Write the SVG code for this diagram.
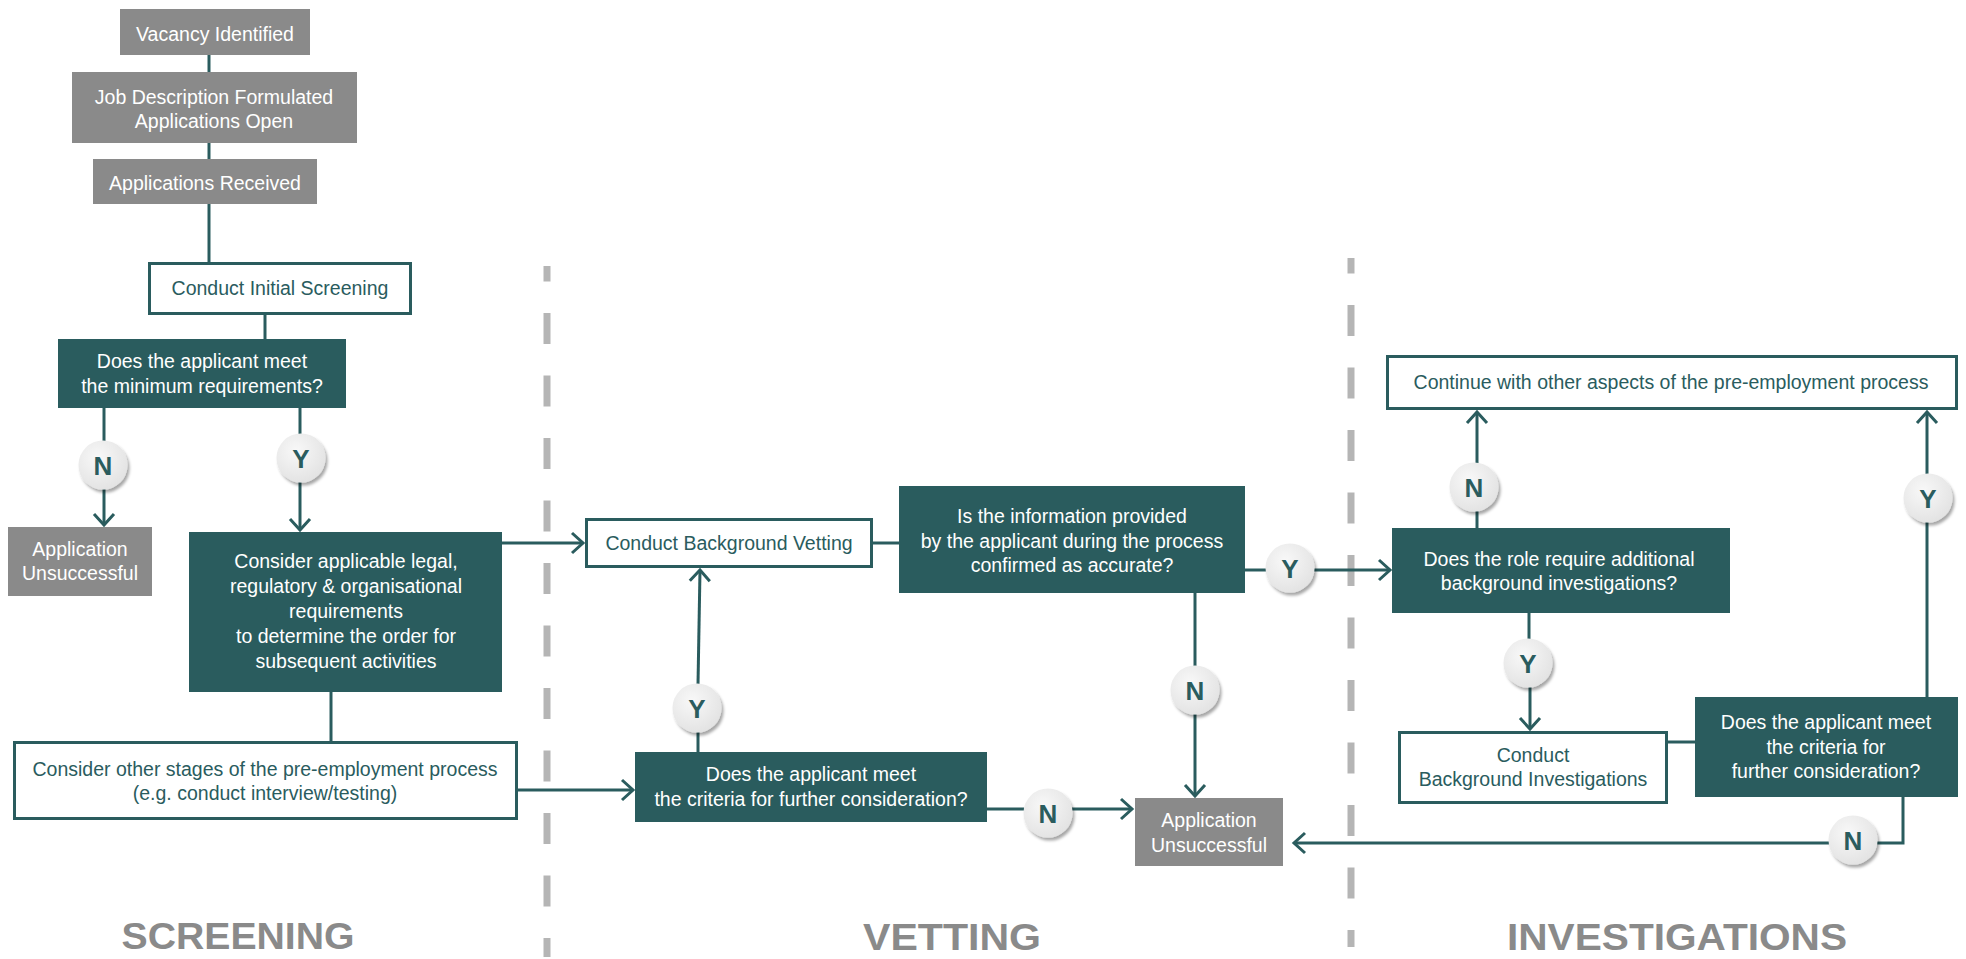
<svg xmlns="http://www.w3.org/2000/svg" width="1966" height="959" viewBox="0 0 1966 959">
<defs>
<style>
.dk{fill:#2a5c5e}
.gy{fill:#8a8a8a}
.wb{fill:#ffffff;stroke:#2a5c5e;stroke-width:3}
.tw{font-family:"Liberation Sans",Arial,sans-serif;font-size:19.5px;fill:#ffffff;text-anchor:middle}
.tt{font-family:"Liberation Sans",Arial,sans-serif;font-size:19.5px;fill:#2a5c5e;text-anchor:middle}
.ln{fill:none;stroke:#2a5c5e;stroke-width:3}
.ar{marker-end:url(#arr)}
.bc{fill:url(#cg);filter:url(#sh)}
.bt{font-family:"Liberation Sans",Arial,sans-serif;font-weight:bold;font-size:26px;fill:#2a5c5e;text-anchor:middle}
.sep{stroke:#b5b5b5;stroke-width:7;stroke-dasharray:31 31.5;stroke-dashoffset:15.5;fill:none}
.hd{font-family:"Liberation Sans",Arial,sans-serif;font-weight:bold;font-size:37px;fill:#8a8a8a;text-anchor:middle}
</style>
<marker id="arr" markerUnits="userSpaceOnUse" markerWidth="30" markerHeight="30" viewBox="-15 -15 30 30" refX="0" refY="0" orient="auto">
<path d="M-11,-10 L0,0 L-11,10" fill="none" stroke="#2a5c5e" stroke-width="3"/>
</marker>
<radialGradient id="cg" cx="0.4" cy="0.35" r="0.7">
<stop offset="0" stop-color="#f8f8f8"/>
<stop offset="1" stop-color="#e2e2e2"/>
</radialGradient>
<filter id="sh" x="-30%" y="-30%" width="170%" height="170%">
<feDropShadow dx="2" dy="3" stdDeviation="1.8" flood-color="#000" flood-opacity="0.35"/>
</filter>
</defs>
<rect width="1966" height="959" fill="#ffffff"/>

<g id="separators">
<line class="sep" x1="547" y1="266" x2="547" y2="957"/>
<line class="sep" x1="1351" y1="258" x2="1351" y2="947"/>
</g>

<g id="headings">
<text class="hd" x="238" y="949" textLength="233" lengthAdjust="spacingAndGlyphs">SCREENING</text>
<text class="hd" x="952" y="950" textLength="178" lengthAdjust="spacingAndGlyphs">VETTING</text>
<text class="hd" x="1677" y="950" textLength="340" lengthAdjust="spacingAndGlyphs">INVESTIGATIONS</text>
</g>

<g id="connectors">
<path class="ln" d="M209,55 V72"/>
<path class="ln" d="M209,143 V159"/>
<path class="ln" d="M209,204 V262"/>
<path class="ln" d="M265,315 V339"/>
<path class="ln" d="M104,408 V441"/>
<path class="ln ar" d="M104,489 V525"/>
<path class="ln" d="M300,408 V434"/>
<path class="ln ar" d="M300,482 V530"/>
<path class="ln ar" d="M502,543 H583"/>
<path class="ln" d="M331,692 V741"/>
<path class="ln ar" d="M517,790 H633"/>
<path class="ln" d="M698,752 V732"/>
<path class="ln ar" d="M698,684 L700,570"/>
<path class="ln" d="M873,543 H899"/>
<path class="ln" d="M1245,570 H1266"/>
<path class="ln ar" d="M1314,570 H1390"/>
<path class="ln" d="M1195,593 V666"/>
<path class="ln ar" d="M1195,714 V796"/>
<path class="ln" d="M987,809 H1024"/>
<path class="ln ar" d="M1072,809 H1132"/>
<path class="ln" d="M1477,528 V511"/>
<path class="ln ar" d="M1477,463 V412"/>
<path class="ln" d="M1529,613 V639"/>
<path class="ln ar" d="M1530,687 V729"/>
<path class="ln" d="M1668,742 H1695"/>
<path class="ln" d="M1927,697 V522"/>
<path class="ln ar" d="M1927,474 V412"/>
<path class="ln" d="M1903,797 V843 H1877"/>
<path class="ln ar" d="M1829,843 H1294"/>
</g>

<g id="badges">
<g id="b1"><circle class="bc" cx="103" cy="465" r="24.5"/><text class="bt" x="103" y="474.5">N</text></g>
<g id="b2"><circle class="bc" cx="301" cy="458" r="24.5"/><text class="bt" x="301" y="467.5">Y</text></g>
<g id="b3"><circle class="bc" cx="697" cy="708" r="24.5"/><text class="bt" x="697" y="717.5">Y</text></g>
<g id="b4"><circle class="bc" cx="1290" cy="568" r="24.5"/><text class="bt" x="1290" y="577.5">Y</text></g>
<g id="b5"><circle class="bc" cx="1195" cy="690" r="24.5"/><text class="bt" x="1195" y="699.5">N</text></g>
<g id="b6"><circle class="bc" cx="1048" cy="813" r="24.5"/><text class="bt" x="1048" y="822.5">N</text></g>
<g id="b7"><circle class="bc" cx="1474" cy="487" r="24.5"/><text class="bt" x="1474" y="496.5">N</text></g>
<g id="b8"><circle class="bc" cx="1528" cy="663" r="24.5"/><text class="bt" x="1528" y="672.5">Y</text></g>
<g id="b9"><circle class="bc" cx="1928" cy="498" r="24.5"/><text class="bt" x="1928" y="507.5">Y</text></g>
<g id="b10"><circle class="bc" cx="1853" cy="840" r="24.5"/><text class="bt" x="1853" y="849.5">N</text></g>
</g>

<g id="vacancy">
<rect class="gy" x="120" y="9" width="190" height="46"/>
<text class="tw" x="215" y="41">Vacancy Identified</text>
</g>
<g id="jobdesc">
<rect class="gy" x="72" y="72" width="285" height="71"/>
<text class="tw" x="214" y="104">Job Description Formulated</text>
<text class="tw" x="214" y="128">Applications Open</text>
</g>
<g id="received">
<rect class="gy" x="93" y="159" width="224" height="45"/>
<text class="tw" x="205" y="190">Applications Received</text>
</g>
<g id="initial">
<rect class="wb" x="149.5" y="263.5" width="261" height="50"/>
<text class="tt" x="280" y="295">Conduct Initial Screening</text>
</g>
<g id="minreq">
<rect class="dk" x="58" y="339" width="288" height="69"/>
<text class="tw" x="202" y="368">Does the applicant meet</text>
<text class="tw" x="202" y="393">the minimum requirements?</text>
</g>
<g id="unsucc1">
<rect class="gy" x="8" y="527" width="144" height="69"/>
<text class="tw" x="80" y="556">Application</text>
<text class="tw" x="80" y="580">Unsuccessful</text>
</g>
<g id="legal">
<rect class="dk" x="189" y="532" width="313" height="160"/>
<text class="tw" x="346" y="568">Consider applicable legal,</text>
<text class="tw" x="346" y="593">regulatory &amp; organisational</text>
<text class="tw" x="346" y="618">requirements</text>
<text class="tw" x="346" y="643">to determine the order for</text>
<text class="tw" x="346" y="668">subsequent activities</text>
</g>
<g id="otherstages">
<rect class="wb" x="14.5" y="742.5" width="502" height="76"/>
<text class="tt" x="265" y="776">Consider other stages of the pre-employment process</text>
<text class="tt" x="265" y="800">(e.g. conduct interview/testing)</text>
</g>
<g id="vetting">
<rect class="wb" x="586.5" y="519.5" width="285" height="47"/>
<text class="tt" x="729" y="550">Conduct Background Vetting</text>
</g>
<g id="accurate">
<rect class="dk" x="899" y="486" width="346" height="107"/>
<text class="tw" x="1072" y="523">Is the information provided</text>
<text class="tw" x="1072" y="548">by the applicant during the process</text>
<text class="tw" x="1072" y="572">confirmed as accurate?</text>
</g>
<g id="criteria1">
<rect class="dk" x="635" y="752" width="352" height="70"/>
<text class="tw" x="811" y="781">Does the applicant meet</text>
<text class="tw" x="811" y="806">the criteria for further consideration?</text>
</g>
<g id="unsucc2">
<rect class="gy" x="1135" y="798" width="148" height="68"/>
<text class="tw" x="1209" y="827">Application</text>
<text class="tw" x="1209" y="852">Unsuccessful</text>
</g>
<g id="continue">
<rect class="wb" x="1387.5" y="356.5" width="569" height="52"/>
<text class="tt" x="1671" y="389">Continue with other aspects of the pre-employment process</text>
</g>
<g id="rolereq">
<rect class="dk" x="1392" y="528" width="338" height="85"/>
<text class="tw" x="1559" y="566">Does the role require additional</text>
<text class="tw" x="1559" y="590">background investigations?</text>
</g>
<g id="investigate">
<rect class="wb" x="1399.5" y="732.5" width="267" height="70"/>
<text class="tt" x="1533" y="762">Conduct</text>
<text class="tt" x="1533" y="786">Background Investigations</text>
</g>
<g id="criteria2">
<rect class="dk" x="1695" y="697" width="263" height="100"/>
<text class="tw" x="1826" y="729">Does the applicant meet</text>
<text class="tw" x="1826" y="754">the criteria for</text>
<text class="tw" x="1826" y="778">further consideration?</text>
</g>
</svg>
